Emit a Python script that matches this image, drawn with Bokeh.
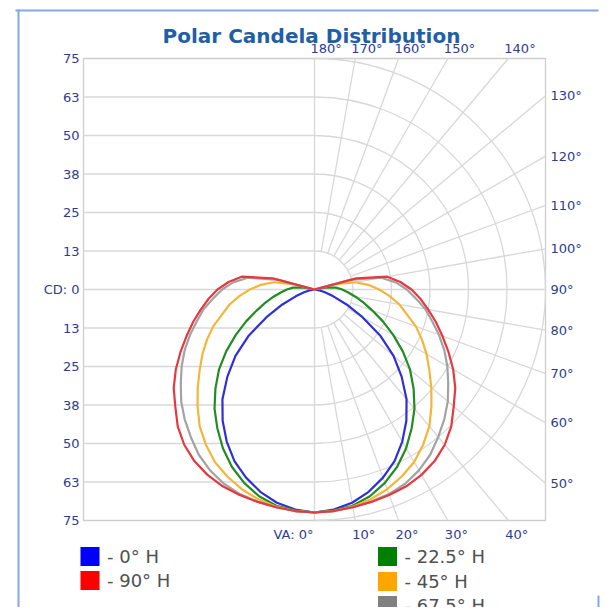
import math
from bokeh.plotting import figure
from bokeh.models import Range1d
from bokeh.core.properties import value
from bokeh.embed import file_html
from bokeh.resources import INLINE

# ---------------- data ----------------
va_angles = list(range(0, 185, 5))  # vertical angle, 0 = straight down

cd_0h = [72.4, 71.7, 70.3, 68.0, 65.0, 61.5, 57.0, 52.0, 46.5, 40.0, 33.5, 26.0, 18.0,
         11.5, 6.5, 3.5, 1.5, 0.5, 0.0] + [0.0] * 18
cd_22h = [72.4, 72.0, 71.3, 69.5, 66.8, 63.5, 59.5, 55.0, 50.5, 45.5, 40.5, 35.0, 29.5,
          24.5, 20.0, 16.5, 13.5, 11.0, 9.0, 7.0, 4.0, 0.0] + [0.0] * 15
cd_45h = [72.4, 72.2, 71.6, 70.5, 69.0, 67.0, 64.7, 61.5, 58.0, 53.7, 49.5, 45.5, 42.0,
          38.5, 35.0, 31.0, 28.0, 24.5, 21.0, 17.5, 13.5, 6.0, 0.0] + [0.0] * 14
cd_67h = [72.4, 72.2, 71.8, 71.3, 70.7, 69.6, 67.8, 65.5, 62.5, 59.6, 56.5, 53.0, 49.8,
          46.5, 43.0, 39.5, 36.5, 33.0, 30.0, 26.5, 22.0, 12.0, 0.0] + [0.0] * 14
cd_90h = [72.4, 72.2, 71.8, 71.4, 71.0, 70.5, 69.5, 68.0, 65.8, 62.8, 59.0, 55.8, 52.0,
          48.0, 44.2, 40.8, 37.5, 34.5, 31.5, 28.0, 24.0, 14.0, 0.0] + [0.0] * 14

series_names = ["0° H", "22.5° H", "45° H", "67.5° H", "90° H"]
series_values = [cd_0h, cd_22h, cd_45h, cd_67h, cd_90h]
line_colors = ["#2f2fd8", "#238b23", "#f3b63a", "#a3a3a3", "#e5393f"]
swatch_colors = ["#0000ff", "#008000", "#ffa500", "#808080", "#ff0000"]

cd_max = 75.0
cd_ticks = [75, 62.5, 50, 37.5, 25, 12.5, 0, -12.5, -25, -37.5, -50, -62.5, -75]
cd_labels = ["75", "63", "50", "38", "25", "13", "CD: 0", "13", "25", "38", "50", "63", "75"]
ring_radii = [12.5, 25, 37.5, 50, 62.5, 75]
ray_angles = [10, 20, 30, 40, 50, 60, 70, 80, 100, 110, 120, 130, 140, 150, 160, 170]
right_angles = [130, 120, 110, 100, 90, 80, 70, 60, 50]
top_angles = [180, 170, 160, 150, 140]
bottom_angles = [0, 10, 20, 30, 40]
bottom_labels = ["VA: 0°", "10°", "20°", "30°", "40°"]
title_text = "Polar Candela Distribution"

# ---------------- layout ----------------
S = 231 / 75.0          # pixels per candela unit
CX, CY = 314, 289       # picture position of the pole
W, H = 613, 607


def px(page_x):
    return (page_x - CX) / S


def py(page_y):
    return (CY - page_y) / S


p = figure(width=W, height=H,
           x_range=Range1d(px(0), px(W)), y_range=Range1d(py(H), py(0)),
           output_backend="svg", toolbar_location=None, min_border=0,
           x_axis_location=None, y_axis_location=None)
p.grid.visible = False
p.outline_line_color = None
p.background_fill_color = "white"
p.border_fill_color = "white"

GRID = "#d8d8d8"
LAB = "#2f3c8e"
FONT = value("DejaVu Sans")

# plot box
p.quad(left=-cd_max, right=cd_max, bottom=-cd_max, top=cd_max,
       fill_color="white", line_color="#cdcdcd", line_width=1.3)

# horizontal lines on the left half
hy = [v for v in cd_ticks if abs(v) < cd_max]
p.segment(x0=[-cd_max] * len(hy), y0=hy,
          x1=[cd_max if v == 0 else 0 for v in hy], y1=hy,
          line_color=GRID, line_width=1.3)
# vertical center line
p.segment(x0=[0], y0=[-cd_max], x1=[0], y1=[cd_max], line_color=GRID, line_width=1.3)

# arcs on the right half
p.arc(x=[0] * len(ring_radii), y=[0] * len(ring_radii), radius=ring_radii,
      start_angle=-math.pi / 2, end_angle=math.pi / 2,
      line_color=GRID, line_width=1.3)


def border_point(a_deg):
    a = math.radians(a_deg)
    dx, dy = math.sin(a), -math.cos(a)
    t = cd_max / max(abs(dx), abs(dy))
    return dx * t, dy * t


# rays
r0 = ring_radii[0]
rx0, ry0, rx1, ry1 = [], [], [], []
for a_deg in ray_angles:
    a = math.radians(a_deg)
    rx0.append(r0 * math.sin(a))
    ry0.append(-r0 * math.cos(a))
    bx_, by_ = border_point(a_deg)
    rx1.append(bx_)
    ry1.append(by_)
p.segment(x0=rx0, y0=ry0, x1=rx1, y1=ry1, line_color=GRID, line_width=1.3)

# candela curves
for vals, col in zip(series_values, line_colors):
    xs, ys = [], []
    for a_deg, r in zip(va_angles, vals):
        a = math.radians(a_deg)
        xs.append(r * math.sin(a))
        ys.append(-r * math.cos(a))
    for a_deg, r in zip(reversed(va_angles), reversed(vals)):
        a = math.radians(a_deg)
        xs.append(-r * math.sin(a))
        ys.append(-r * math.cos(a))
    p.line(xs, ys, line_color=col, line_width=2.2, line_join="round")

# left labels
p.text(x=[-cd_max] * len(cd_ticks), y=cd_ticks, text=cd_labels, x_offset=-4,
       text_align="right", text_baseline="middle", text_font=FONT,
       text_font_size=value("13px"), text_color=LAB)

# right labels
ry = [border_point(a)[1] for a in right_angles]
p.text(x=[cd_max] * len(right_angles), y=ry, text=[f"{a}°" for a in right_angles],
       x_offset=5, text_align="left", text_baseline="middle", text_font=FONT,
       text_font_size=value("13px"), text_color=LAB)

# top labels
tx = [border_point(a)[0] for a in top_angles]
p.text(x=tx, y=[cd_max] * len(top_angles), text=[f"{a}°" for a in top_angles],
       x_offset=-4, y_offset=-3, text_align="left", text_baseline="bottom",
       text_font=FONT, text_font_size=value("13px"), text_color=LAB)

# bottom labels
bx = [border_point(a)[0] for a in bottom_angles]
p.text(x=bx[:1], y=[-cd_max], text=bottom_labels[:1], x_offset=-1, y_offset=6,
       text_align="right", text_baseline="top", text_font=FONT,
       text_font_size=value("13px"), text_color=LAB)
p.text(x=bx[1:], y=[-cd_max] * (len(bx) - 1), text=bottom_labels[1:], x_offset=-3, y_offset=6,
       text_align="left", text_baseline="top", text_font=FONT,
       text_font_size=value("13px"), text_color=LAB)

# title
p.text(x=[px(311)], y=[py(35)], text=[title_text], text_align="center",
       text_baseline="alphabetic", text_font=FONT, text_font_style="bold",
       text_font_size=value("20px"), text_color="#1f5fa6")

# legend
leg_x = [px(89.5), px(387), px(387), px(387), px(89.5)]
leg_y = [py(556), py(556), py(581), py(605), py(580)]
p.scatter(x=leg_x, y=leg_y, marker="square", size=19,
          fill_color=swatch_colors, line_color=None)
p.text(x=leg_x, y=leg_y, text=[f"- {n}" for n in series_names], x_offset=17,
       text_align="left", text_baseline="middle", text_font=FONT,
       text_font_size=value("18px"), text_color="#505050")

# window frame lines of the captured panel
FRAME = "#86a6e4"
p.segment(x0=[px(18), px(15), px(598)], y0=[py(9), py(10), py(595)],
          x1=[px(18), px(598), px(598)], y1=[py(609), py(10), py(609)],
          line_color=FRAME, line_width=2)

open("out.html", "w").write(file_html(p, INLINE))
